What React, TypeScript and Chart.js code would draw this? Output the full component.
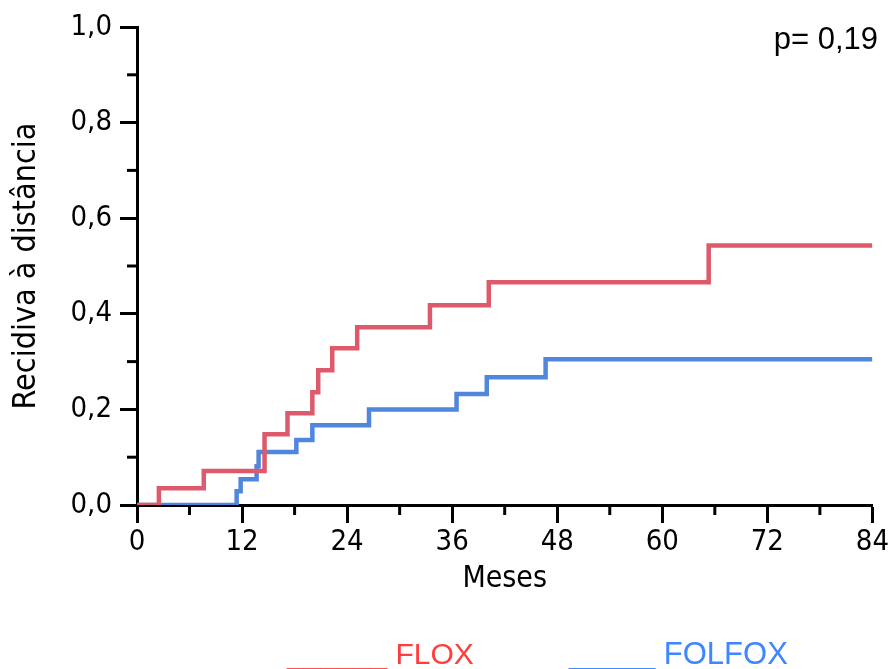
import React, { useEffect, useRef } from 'react';
import { Chart, registerables } from 'chart.js';

Chart.register(...registerables);

// FLOX (red) step curve: times (months) and cumulative incidence after each step
const floxTimes = [0, 2.5, 7.63, 14.57, 17.19, 20.03, 20.7, 22.3, 25.15, 33.46, 40.18, 65.3, 84];
const floxValues = [0, 0.035, 0.071, 0.148, 0.192, 0.236, 0.282, 0.328, 0.372, 0.418, 0.466, 0.543, 0.543];

// FOLFOX (blue)
const folfoxTimes = [0, 11.38, 11.84, 13.66, 13.89, 18.2, 20.03, 26.5, 36.5, 39.95, 46.67, 84];
const folfoxValues = [0, 0.029, 0.054, 0.081, 0.111, 0.136, 0.167, 0.2, 0.232, 0.267, 0.305, 0.305];

const xMajorTicks = [0, 12, 24, 36, 48, 60, 72, 84];
const xMinorTicks = [6, 18, 30, 42, 54, 66, 78];
const yMajorTicks = [0, 0.2, 0.4, 0.6, 0.8, 1.0];
const yMinorTicks = [0.1, 0.3, 0.5, 0.7, 0.9];

const seriesNames = ['FLOX', 'FOLFOX'];
const lineColors = ['#dc5a6b', '#5087dd'];
const legendColors = ['#ff3d3d', '#3f86ff'];
const pValueText = 'p= 0,19';
const xTitle = 'Meses';
const yTitle = 'Recidiva à distância';

const W = 891;
const H = 669;
const CONDENSED = '"DejaVu Sans Condensed", "DejaVu Sans", sans-serif';

const toPoints = (xs: number[], ys: number[]) => xs.map((x, i) => ({ x, y: ys[i] }));

const extrasPlugin = {
  id: 'extras',
  afterDraw(chart: any) {
    const { ctx, scales } = chart;
    const xs = scales.x;
    const ys = scales.y;
    const area = chart.chartArea;
    ctx.save();
    ctx.strokeStyle = '#000';
    ctx.lineWidth = 3;
    // minor ticks
    xMinorTicks.forEach((v) => {
      const px = xs.getPixelForValue(v);
      ctx.beginPath();
      ctx.moveTo(px, area.bottom);
      ctx.lineTo(px, area.bottom + 10);
      ctx.stroke();
    });
    yMinorTicks.forEach((v) => {
      const py = ys.getPixelForValue(v);
      ctx.beginPath();
      ctx.moveTo(area.left, py);
      ctx.lineTo(area.left - 10, py);
      ctx.stroke();
    });
    // p value
    ctx.fillStyle = '#000';
    ctx.font = '31px "Liberation Sans", Arial, sans-serif';
    ctx.textAlign = 'right';
    ctx.textBaseline = 'alphabetic';
    ctx.fillText(pValueText, 878, 49);
    // legend
    ctx.textAlign = 'left';
    ctx.font = '30px "Liberation Sans", Arial, sans-serif';
    ctx.fillStyle = legendColors[0];
    ctx.fillText('______ ' + seriesNames[0], 287, 664);
    ctx.font = '31px "Liberation Sans", Arial, sans-serif';
    ctx.fillStyle = legendColors[1];
    ctx.fillText('_____ ' + seriesNames[1], 569, 664);
    ctx.restore();
  },
};

export default function App() {
  const canvasRef = useRef<HTMLCanvasElement | null>(null);

  useEffect(() => {
    document.body.style.margin = '0';
    const canvas = canvasRef.current;
    if (!canvas) return;
    const tickFont = { family: CONDENSED, size: 29 };
    const chart = new Chart(canvas, {
      type: 'line',
      data: {
        datasets: [
          {
            label: seriesNames[0],
            data: toPoints(floxTimes, floxValues),
            borderColor: lineColors[0],
            borderWidth: 4.5,
            stepped: true,
            pointRadius: 0,
            fill: false,
          },
          {
            label: seriesNames[1],
            data: toPoints(folfoxTimes, folfoxValues),
            borderColor: lineColors[1],
            borderWidth: 4.5,
            stepped: true,
            pointRadius: 0,
            fill: false,
          },
        ],
      },
      options: {
        responsive: false,
        animation: false,
        events: [],
        layout: { padding: { top: 27, right: 16, bottom: 69, left: 0 } },
        plugins: {
          legend: { display: false },
          tooltip: { enabled: false },
        },
        scales: {
          x: {
            type: 'linear',
            min: 0,
            max: 84,
            afterFit: (s: any) => {
              s.height = 95;
            },
            afterBuildTicks: (s: any) => {
              s.ticks = xMajorTicks.map((v) => ({ value: v }));
            },
            ticks: {
              font: tickFont,
              color: '#000',
              padding: 2,
              maxRotation: 0,
              autoSkip: false,
              callback: (v: any) => String(v),
            },
            grid: {
              display: true,
              drawOnChartArea: false,
              drawTicks: true,
              tickLength: 18,
              tickWidth: 3,
              tickColor: '#000',
            },
            border: { display: true, color: '#000', width: 3 },
            title: {
              display: true,
              text: xTitle,
              color: '#000',
              font: { family: CONDENSED, size: 30 },
              padding: { top: 0, bottom: 3 },
            },
          },
          y: {
            type: 'linear',
            min: 0,
            max: 1,
            afterFit: (s: any) => {
              s.width = 137;
            },
            afterBuildTicks: (s: any) => {
              s.ticks = yMajorTicks.map((v) => ({ value: v }));
            },
            ticks: {
              font: tickFont,
              color: '#000',
              padding: 8,
              autoSkip: false,
              callback: (v: any) => Number(v).toFixed(1).replace('.', ','),
            },
            grid: {
              display: true,
              drawOnChartArea: false,
              drawTicks: true,
              tickLength: 17,
              tickWidth: 3,
              tickColor: '#000',
            },
            border: { display: true, color: '#000', width: 3 },
            title: {
              display: true,
              text: yTitle,
              color: '#000',
              font: { family: CONDENSED, size: 32 },
              padding: { top: 7, bottom: 0 },
            },
          },
        },
      },
      plugins: [extrasPlugin],
    } as any);
    return () => chart.destroy();
  }, []);

  return (
    <div style={{ position: 'fixed', left: 0, top: 0, width: W, height: H, background: '#fff' }}>
      <canvas ref={canvasRef} width={W} height={H} style={{ display: 'block' }} />
    </div>
  );
}
